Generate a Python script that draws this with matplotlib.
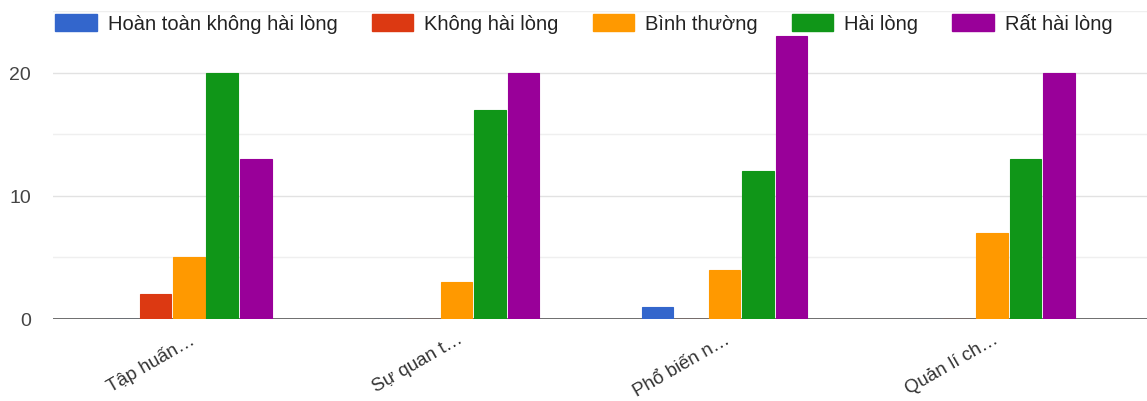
import numpy as np
import matplotlib
matplotlib.use('Agg')
import matplotlib.pyplot as plt
from matplotlib.patches import Patch

plt.rcParams['font.family'] = ['Liberation Sans', 'DejaVu Sans']

# data
categories = ["Tập huấn…", "Sự quan t…", "Phổ biến n…", "Quản lí ch…"]
series_names = ["Hoàn toàn không hài lòng", "Không hài lòng", "Bình thường",
                "Hài lòng", "Rất hài lòng"]
hoan_toan_khong = [0, 0, 1, 0]
khong_hai_long = [2, 0, 0, 0]
binh_thuong = [5, 3, 4, 7]
hai_long = [20, 17, 12, 13]
rat_hai_long = [13, 20, 23, 20]
series_values = [hoan_toan_khong, khong_hai_long, binh_thuong, hai_long, rat_hai_long]
colors = ["#3366CC", "#DC3912", "#FF9900", "#109618", "#990099"]

fig = plt.figure(figsize=(11.47, 4.02), dpi=100)
ax = fig.add_axes([53 / 1147, 1 - 320 / 402, 1 - 53 / 1147, 308 / 402])

x = np.arange(len(categories))
pitch = 0.125
width = 0.118
for i, (vals, col) in enumerate(zip(series_values, colors)):
    ax.bar(x + (i - 2) * pitch, vals, width=width, color=col,
           edgecolor=col, linewidth=0.8, zorder=3)

# gridlines
for v in [5, 15, 25]:
    ax.axhline(v, color="#efefef", linewidth=1.0, zorder=1)
for v in [10, 20]:
    ax.axhline(v, color="#e2e2e2", linewidth=1.0, zorder=1)
ax.axhline(0, color="#555555", linewidth=1.2, zorder=2)

ax.set_ylim(0, 25)
ax.set_xlim(-0.507, 3.578)
ax.set_yticks([0, 10, 20])
ax.tick_params(axis='y', length=0, pad=16, labelsize=14, labelcolor="#444444")
ax.set_xticks(x)
ax.set_xticklabels(categories, rotation=30, ha='right', rotation_mode='anchor',
                   fontsize=13.5, color="#333333")
ax.tick_params(axis='x', length=0, pad=8)
for s in ax.spines.values():
    s.set_visible(False)

handles = [Patch(facecolor=c, edgecolor=c, label=n) for n, c in zip(series_names, colors)]
fig.legend(handles=handles, loc='center', bbox_to_anchor=(0.509, 0.94), ncol=5,
           frameon=False, fontsize=14.5, handlelength=2.05, handleheight=0.9,
           handletextpad=0.55, columnspacing=1.7, borderpad=0, borderaxespad=0,
           labelcolor="#222222")

fig.savefig("out.png", dpi=100)
